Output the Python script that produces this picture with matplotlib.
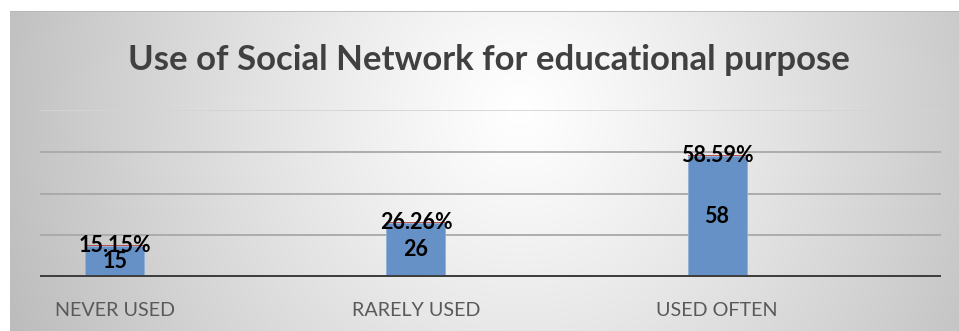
import numpy as np
import matplotlib
matplotlib.use("Agg")
import matplotlib.pyplot as plt
from matplotlib.transforms import blended_transform_factory

categories = ["NEVER USED", "RARELY USED", "USED OFTEN"]
counts = [15, 26, 58]
percents = [15.15, 26.26, 58.59]
count_labels = ["15", "26", "58"]
percent_labels = ["15.15%", "26.26%", "58.59%"]
title = "Use of Social Network for educational purpose"
grid_values = [20, 40, 60, 80]

plt.rcParams['font.family'] = ['Lato', 'DejaVu Sans']

W, H = 959, 331
fig = plt.figure(figsize=(W / 100, H / 100), dpi=100)
fig.patch.set_facecolor('white')

# background radial gradient panel
bx0, by_top = 10, 11
bg = fig.add_axes([bx0 / W, 0, (W - bx0) / W, (H - by_top) / H])
bg.set_axis_off()
xs = np.arange(bx0, W) + 0.5
ys = np.arange(by_top, H) + 0.5
X, Y = np.meshgrid(xs, ys)
cx, cy, R = 520, 110, 550
r = np.clip(np.sqrt((X - cx) ** 2 + (Y - cy) ** 2) / R, 0, 1)
g = 1 - 0.26 * r ** 1.15
bg.imshow(np.dstack([g, g, g]), aspect='auto', extent=[0, 1, 0, 1], origin='upper')
bg.set_xlim(0, 1)
bg.set_ylim(0, 1)
bg.axhline(1, color='#b5b5b5', lw=1.2)

# plot axes
left, right = 40, 941
top, base = 110, 277
ax = fig.add_axes([left / W, (H - base) / H, (right - left) / W, (base - top) / H])
ax.patch.set_alpha(0)
x = np.arange(len(categories))
bw = 0.196
ax.set_xlim(-0.249, 2.744)
ax.set_ylim(0, 80)

for v in grid_values:
    col = '#d4d4d4' if v == 80 else '#a8a8a8'
    ax.axhline(v, color=col, lw=1.3, zorder=1)

ax.bar(x, counts, width=bw, color='#6591c6', edgecolor='#8fb0d8', linewidth=0.6, zorder=2)
pct_h = [p / 100 for p in percents]
ax.bar(x, pct_h, width=bw, bottom=counts, color='#c0504d', zorder=2)
ax.axhline(0, color='#3f3f3f', lw=3.6, zorder=3)

for xi, c, p, cl, pl in zip(x, counts, pct_h, count_labels, percent_labels):
    ax.text(xi, c / 2, cl, ha='center', va='center', fontsize=15.5,
            fontweight='bold', color='black', zorder=4)
    ax.text(xi, c + p / 2, pl, ha='center', va='center', fontsize=15.5,
            fontweight='bold', color='black', zorder=4)

trans = blended_transform_factory(ax.transData, ax.transAxes)
for xi, cat in zip(x, categories):
    ax.annotate(cat, xy=(xi, 0), xycoords=trans, xytext=(0, -28),
                textcoords='offset points', ha='center', va='baseline',
                fontsize=14.2, color='#595959')

ax.set_axis_off()

fig.text(489 / W, 1 - 70 / H, title, ha='center', va='baseline',
         fontsize=25, fontweight='bold', color='#404040')

fig.savefig('out.png', dpi=100)
